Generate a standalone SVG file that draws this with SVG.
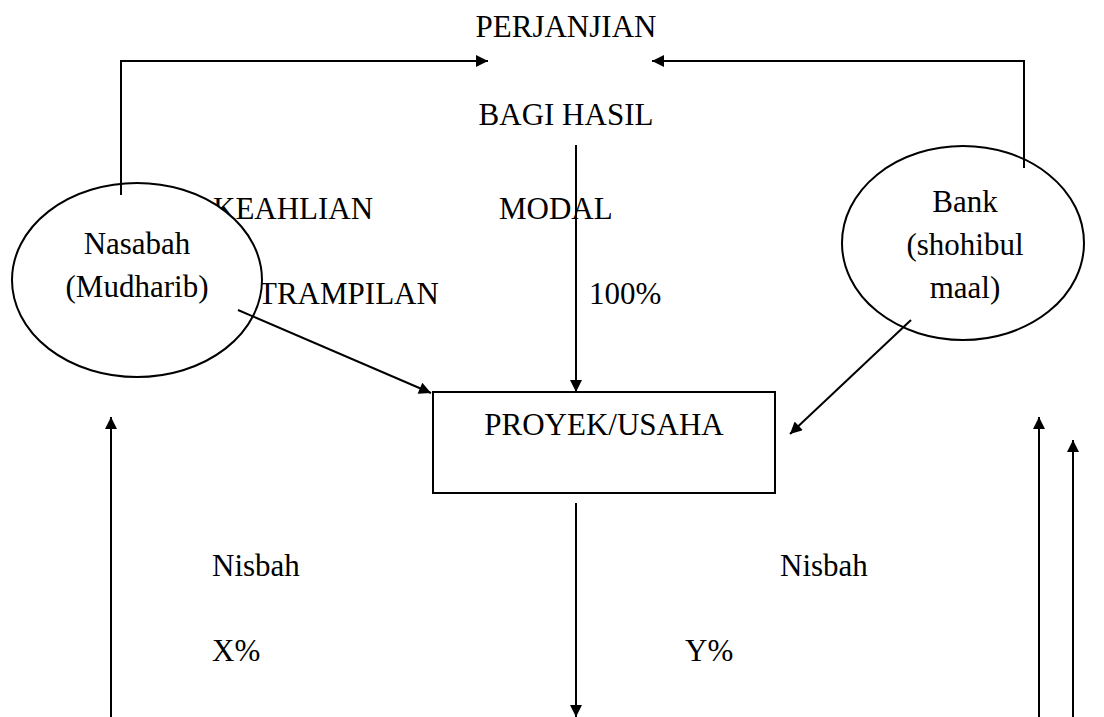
<svg xmlns="http://www.w3.org/2000/svg" width="1104" height="717" viewBox="0 0 1104 717">
<style>
text{font-family:'Liberation Serif',serif;font-size:31px;fill:#000}
.c{text-anchor:middle}
.ln{fill:none;stroke:#000;stroke-width:2}
.sh{fill:#fff;stroke:#000;stroke-width:2}
</style>
<defs>
<marker id="ah" viewBox="0 0 10 10" refX="10" refY="5" markerWidth="16" markerHeight="12" markerUnits="userSpaceOnUse" orient="auto">
<path d="M0,0L10,5L0,10z" fill="#000"/>
</marker>
</defs>
<rect width="1104" height="717" fill="#fff"/>
<g id="labels">
<text x="566" y="37" class="c">PERJANJIAN</text>
<text x="566" y="125" class="c">BAGI HASIL</text>
<text x="213" y="219">KEAHLIAN</text>
<text x="499" y="219">MODAL</text>
<text x="258" y="304">TRAMPILAN</text>
<text x="589" y="304">100%</text>
<text x="212" y="576">Nisbah</text>
<text x="212" y="661">X%</text>
<text x="780" y="576">Nisbah</text>
<text x="685" y="661">Y%</text>
</g>
<g id="nasabah">
<ellipse cx="137" cy="280" rx="125" ry="97" class="sh"/>
<text x="137" y="254" class="c">Nasabah</text>
<text x="137" y="297" class="c">(Mudharib)</text>
</g>
<g id="bank">
<ellipse cx="963" cy="243" rx="121" ry="97" class="sh"/>
<text x="965" y="212" class="c">Bank</text>
<text x="965" y="255" class="c">(shohibul</text>
<text x="965" y="298" class="c">maal)</text>
</g>
<g id="proyek">
<rect x="433" y="392" width="342" height="101" class="sh"/>
<text x="604" y="435" class="c">PROYEK/USAHA</text>
</g>
<g id="connectors">
<polyline points="121,195 121,61 488,61" class="ln" marker-end="url(#ah)"/>
<polyline points="1024,168 1024,61 652,61" class="ln" marker-end="url(#ah)"/>
<line x1="576" y1="145" x2="576" y2="392" class="ln" marker-end="url(#ah)"/>
<line x1="238" y1="310" x2="431" y2="393" class="ln" marker-end="url(#ah)"/>
<line x1="911" y1="320" x2="790" y2="434" class="ln" marker-end="url(#ah)"/>
<line x1="576" y1="503" x2="576" y2="717" class="ln" marker-end="url(#ah)"/>
<line x1="111" y1="717" x2="111" y2="417" class="ln" marker-end="url(#ah)"/>
<line x1="1039" y1="717" x2="1039" y2="417" class="ln" marker-end="url(#ah)"/>
<line x1="1073" y1="717" x2="1073" y2="440" class="ln" marker-end="url(#ah)"/>
</g>
</svg>
